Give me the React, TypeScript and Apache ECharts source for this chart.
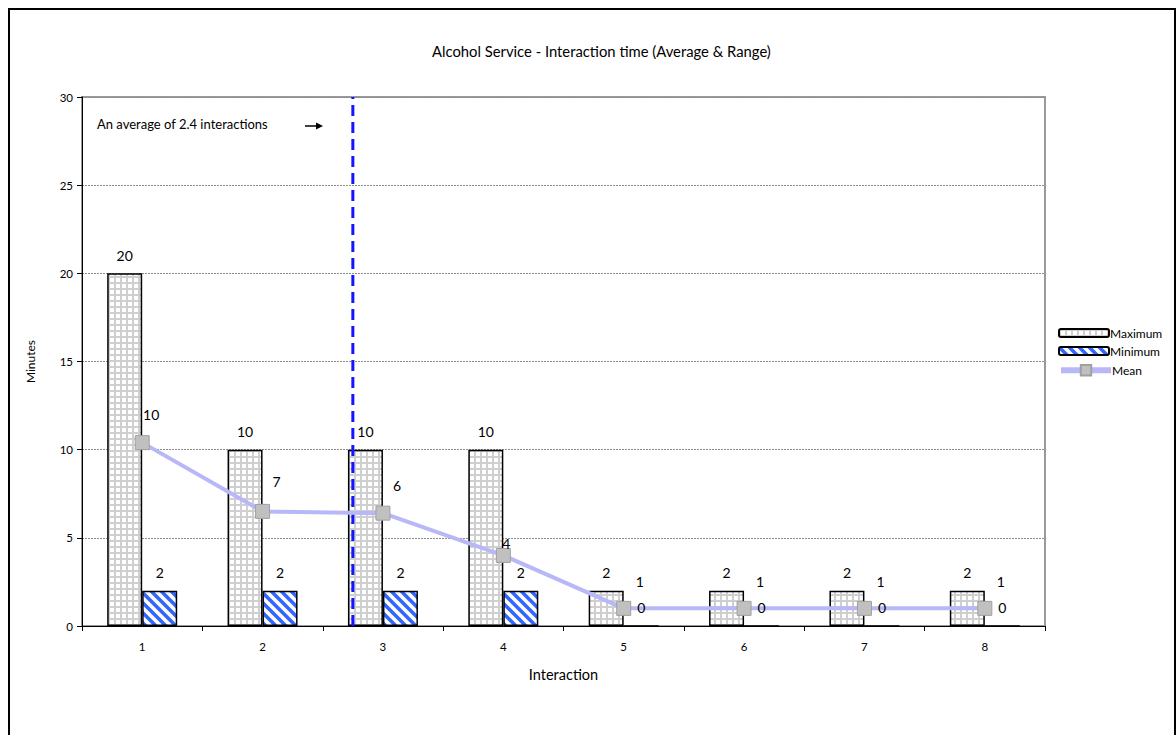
import React, { useEffect, useRef } from "react";
import * as echarts from "echarts";

// Interaction index along the x axis
const interactions = ["1", "2", "3", "4", "5", "6", "7", "8"];
// Minutes per interaction
const maximumMinutes = [20, 10, 10, 10, 2, 2, 2, 2];
const minimumMinutes = [2, 2, 2, 2, 0, 0, 0, 0];
const meanMinutes = [10.4, 6.5, 6.4, 4.0, 1.0, 1.0, 1.0, 1.0];
// Position of the average-interactions marker on a 0..8 interaction scale
const averageMarkerAt = [2.25];
const yTicks = { min: 0, max: 30, interval: 5 };

const FONT = "Lato, 'Liberation Sans', sans-serif";

// Offsets of the mean labels relative to their points
const meanLabelOffsets = [
  [9, -28],
  [14, -30],
  [14, -28],
  [3, -12],
  [16, -27],
  [16, -27],
  [16, -27],
  [16, -27],
];

function gridPattern() {
  const s = 6;
  const c = document.createElement("canvas");
  c.width = s;
  c.height = s;
  const g = c.getContext("2d")!;
  g.fillStyle = "#ffffff";
  g.fillRect(0, 0, s, s);
  g.fillStyle = "#cfcfcf";
  g.fillRect(0, 0, s, 2);
  g.fillRect(0, 0, 2, s);
  return { image: c, repeat: "repeat" };
}

function stripePattern() {
  const s = 10;
  const c = document.createElement("canvas");
  c.width = s;
  c.height = s;
  const g = c.getContext("2d")!;
  g.fillStyle = "#ffffff";
  g.fillRect(0, 0, s, s);
  g.strokeStyle = "#3366ff";
  g.lineWidth = 3.6;
  g.beginPath();
  g.moveTo(-2, -2);
  g.lineTo(s + 2, s + 2);
  g.moveTo(-2, s - 2);
  g.lineTo(2, s + 2);
  g.moveTo(s - 2, -2);
  g.lineTo(s + 2, 2);
  g.stroke();
  return { image: c, repeat: "repeat" };
}

export default function App() {
  const ref = useRef<HTMLDivElement>(null);

  useEffect(() => {
    if (!ref.current) return;
    const chart = echarts.init(ref.current, undefined, { renderer: "svg" });

    const labelText = { fontFamily: FONT, fontSize: 14, color: "#000" };
    const legendText = { fontFamily: FONT, fontSize: 12, color: "#000", padding: [0, 0, 0, -4] };

    chart.setOption({
      animation: false,
      backgroundColor: "#ffffff",
      textStyle: { fontFamily: FONT },
      title: {
        text: "Alcohol Service - Interaction time (Average & Range)",
        left: 427,
        top: 38,
        textStyle: { fontFamily: FONT, fontSize: 14.8, fontWeight: "normal", color: "#000" },
      },
      legend: [
        {
          data: ["Maximum", "Minimum"],
          orient: "vertical",
          left: 1058,
          top: 327,
          itemWidth: 50,
          itemHeight: 8,
          itemGap: 6,
          padding: 0,
          textStyle: legendText,
        },
        {
          data: [{ name: "Mean", lineStyle: { width: 6 } }],
          orient: "vertical",
          left: 1058,
          top: 364,
          itemWidth: 50,
          itemHeight: 13,
          padding: 0,
          textStyle: legendText,
        },
      ],
      grid: {
        left: 82,
        right: 131,
        top: 97,
        bottom: 109,
        show: true,
        borderColor: "#9a9a9a",
        borderWidth: 2,
      },
      xAxis: [
        {
          type: "category",
          data: interactions,
          name: "Interaction",
          nameLocation: "middle",
          nameGap: 41,
          nameTextStyle: { fontFamily: FONT, fontSize: 14.5, color: "#000" },
          axisLine: { lineStyle: { color: "#000", width: 1 } },
          axisTick: { show: true, length: 5, lineStyle: { color: "#000" } },
          axisLabel: { fontFamily: FONT, fontSize: 11.5, color: "#000", margin: 14 },
          splitLine: { show: false },
        },
        {
          type: "value",
          min: 0,
          max: 8,
          show: false,
          splitLine: { show: false },
        },
      ],
      yAxis: {
        type: "value",
        min: yTicks.min,
        max: yTicks.max,
        interval: yTicks.interval,
        name: "Minutes",
        nameLocation: "middle",
        nameGap: 46,
        nameTextStyle: { fontFamily: FONT, fontSize: 12, color: "#000" },
        axisLine: { show: true, lineStyle: { color: "#000", width: 1 } },
        axisTick: { show: true, length: 5, lineStyle: { color: "#000" } },
        axisLabel: { fontFamily: FONT, fontSize: 11.5, color: "#000", margin: 9 },
        splitLine: { show: true, lineStyle: { color: "#8c8c8c", type: [2, 1], width: 1 } },
      },
      series: [
        {
          name: "Maximum",
          type: "bar",
          data: maximumMinutes,
          barWidth: 35,
          barGap: "0%",
          itemStyle: { color: gridPattern(), borderColor: "#000", borderWidth: 1.5 },
          label: { show: true, position: "top", distance: 11, ...labelText },
        },
        {
          name: "Minimum",
          type: "bar",
          data: minimumMinutes,
          barWidth: 35,
          barGap: "0%",
          itemStyle: { color: stripePattern(), borderColor: "#000", borderWidth: 1.5 },
          label: { show: true, position: "top", distance: 11, ...labelText },
          z: 6,
        },
        {
          name: "Average marker",
          type: "line",
          xAxisIndex: 1,
          data: [
            [averageMarkerAt[0], yTicks.min],
            [averageMarkerAt[0], yTicks.max],
          ],
          symbol: "none",
          silent: true,
          lineStyle: { color: "#1414ff", width: 3, type: [11, 6] },
          z: 3,
        },
        {
          name: "Mean",
          type: "line",
          data: meanMinutes.map((v, i) => ({
            value: v,
            label: { offset: meanLabelOffsets[i], color: "#000" },
          })),
          symbol: "rect",
          symbolSize: 14,
          itemStyle: { color: "#c0c0c0", borderColor: "#a0a0a0", borderWidth: 1 },
          lineStyle: { color: "#b8b8f8", width: 4 },
          label: {
            show: true,
            position: "inside",
            formatter: (p: any) => String(Math.round(p.value)),
            ...labelText,
          },
          z: 4,
        },
      ],
      graphic: [
        {
          type: "rect",
          shape: { x: 9, y: 9, width: 1166, height: 800 },
          style: { fill: "none", stroke: "#000", lineWidth: 2 },
          silent: true,
        },
        {
          type: "text",
          left: 97,
          top: 117,
          style: { text: "An average of 2.4 interactions", fontFamily: FONT, fontSize: 13, fill: "#000" },
        },
        {
          type: "line",
          shape: { x1: 305, y1: 126, x2: 318, y2: 126 },
          style: { stroke: "#000", lineWidth: 1.5 },
        },
        {
          type: "polygon",
          shape: { points: [[323, 126], [316, 122.5], [316, 129.5]] },
          style: { fill: "#000" },
        },
      ],
    });

    return () => chart.dispose();
  }, []);

  return (
    <div
      ref={ref}
      style={{ position: "absolute", left: 0, top: 0, width: 1176, height: 735 }}
    />
  );
}
